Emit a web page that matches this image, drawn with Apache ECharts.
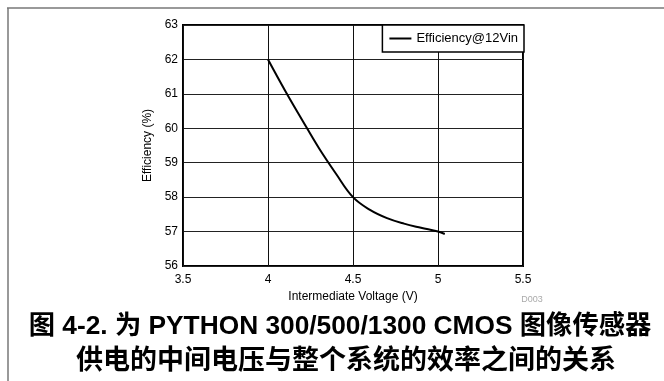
<!DOCTYPE html>
<html>
<head>
<meta charset="utf-8">
<script src="https://cdn.jsdelivr.net/npm/echarts@6/dist/echarts.min.js"></script>
<style>
html,body{margin:0;padding:0;background:#fff;}
#chart{width:664px;height:381px;}
</style>
</head>
<body>
<div id="chart"></div>
<script>
// Data
var voltage = [4.0, 4.1, 4.2, 4.3, 4.4, 4.5, 4.6, 4.7, 4.8, 4.9, 5.0, 5.04];
var efficiency = [62.0, 61.1, 60.25, 59.42, 58.68, 58.0, 57.63, 57.39, 57.23, 57.11, 57.0, 56.93];
var seriesName = 'Efficiency@12Vin';
var xAxisName = 'Intermediate Voltage (V)';
var yAxisName = 'Efficiency (%)';
var titleLine1 = '图 4-2. 为 PYTHON 300/500/1300 CMOS 图像传感器';
var titleLine2 = '供电的中间电压与整个系统的效率之间的关系';
var figureId = 'D003';

var points = voltage.map(function (v, i) { return [v, efficiency[i]]; });
var fam = '"Liberation Sans", Arial, "Noto Sans CJK SC", sans-serif';

var chart = echarts.init(document.getElementById('chart'), null, {renderer: 'canvas'});
chart.setOption({
  animation: false,
  backgroundColor: '#fff',
  grid: {left: 183, right: 141, top: 25, bottom: 115, show: true, borderColor: '#000', borderWidth: 2, backgroundColor: 'transparent'},
  xAxis: {
    type: 'value', min: 3.5, max: 5.5, interval: 0.5,
    axisLine: {show: false}, axisTick: {show: false},
    splitLine: {show: true, lineStyle: {color: '#111', width: 1}},
    axisLabel: {color: '#000', fontSize: 12, fontFamily: fam, margin: 8},
    name: xAxisName, nameLocation: 'middle', nameGap: 25,
    nameTextStyle: {color: '#000', fontSize: 12, fontFamily: fam}
  },
  yAxis: {
    type: 'value', min: 56, max: 63, interval: 1,
    axisLine: {show: false}, axisTick: {show: false},
    splitLine: {show: true, lineStyle: {color: '#222', width: 1}},
    axisLabel: {color: '#000', fontSize: 12, fontFamily: fam, margin: 5},
    name: yAxisName, nameLocation: 'middle', nameGap: 28, nameRotate: 90,
    nameTextStyle: {color: '#000', fontSize: 12, fontFamily: fam}
  },
  legend: {
    show: true, right: 140, top: 25, orient: 'horizontal',
    backgroundColor: '#fff', borderColor: '#000', borderWidth: 1.5, borderRadius: 0,
    padding: [7, 6, 7, 7], itemWidth: 22, itemHeight: 12, itemGap: 5,
    textStyle: {color: '#000', fontSize: 13, fontFamily: fam},
    data: [{name: seriesName, icon: 'path://M0,0 L22,0 L22,2 L0,2 Z', itemStyle: {color: '#000'}}]
  },
  series: [{
    name: seriesName, type: 'line', smooth: 0.4, symbol: 'none',
    data: points, lineStyle: {color: '#000', width: 2}, itemStyle: {color: '#000'}
  }],
  graphic: [
    {type: 'line', shape: {x1: 7, y1: 8, x2: 664, y2: 8}, style: {stroke: '#777', lineWidth: 1.5}},
    {type: 'line', shape: {x1: 8, y1: 8, x2: 8, y2: 381}, style: {stroke: '#777', lineWidth: 1.5}},
    {type: 'text', x: 532, y: 300, style: {text: figureId, fill: '#aaa', font: '9px ' + fam, textAlign: 'center', textVerticalAlign: 'middle'}},
    {type: 'text', x: 340, y: 327, style: {text: titleLine1, fill: '#000', font: 'bold 26.3px ' + fam, textAlign: 'center', textVerticalAlign: 'middle'}},
    {type: 'text', x: 346, y: 362, style: {text: titleLine2, fill: '#000', font: 'bold 27px ' + fam, textAlign: 'center', textVerticalAlign: 'middle'}}
  ]
});
</script>
</body>
</html>
